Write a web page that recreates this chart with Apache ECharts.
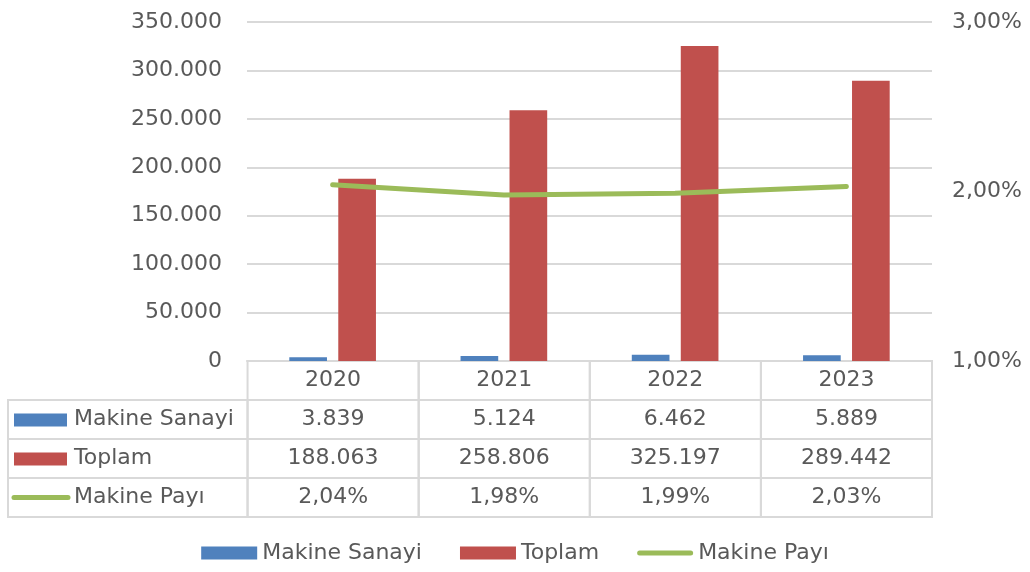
<!DOCTYPE html>
<html>
<head>
<meta charset="utf-8">
<script src="https://cdn.jsdelivr.net/npm/echarts@6/dist/echarts.min.js"></script>
<style>
  html, body { margin: 0; padding: 0; background: #fff; }
  #chart { width: 1030px; height: 572px; }
</style>
</head>
<body>
<div id="chart"></div>
<script>
  // data
  const years = ['2020', '2021', '2022', '2023']
  const makineSanayi = [3839, 5124, 6462, 5889]
  const toplam = [188063, 258806, 325197, 289442]
  const makinePayi = [2.04, 1.98, 1.99, 2.03]
  const seriesNames = ['Makine Sanayi', 'Toplam', 'Makine Payı']

  const blue = '#4f81bd'
  const red = '#c0504d'
  const green = '#9bbb59'
  const textColor = '#595959'
  const lineColor = '#d9d9d9'
  const fontFamily = 'DejaVu Sans'
  const fontSize = 22

  function fmtThousands(v) {
    return String(v).replace(/\B(?=(\d{3})+(?!\d))/g, '.')
  }
  function fmtPct(v) {
    return v.toFixed(2).replace('.', ',') + '%'
  }

  // table cells: x = column start, row index (0 = header)
  const labelColStart = -1.4
  const cells = []
  years.forEach(function(y, i) {
    cells.push({ x: i, row: 0, text: y })
  })
  const rows = [
    { name: seriesNames[0], values: makineSanayi.map(fmtThousands), icon: 'bar', color: blue },
    { name: seriesNames[1], values: toplam.map(fmtThousands), icon: 'bar', color: red },
    { name: seriesNames[2], values: makinePayi.map(fmtPct), icon: 'line', color: green }
  ]
  rows.forEach(function(r, ri) {
    cells.push({ x: labelColStart, row: ri + 1, text: r.name, icon: r.icon, color: r.color, label: true })
    r.values.forEach(function(v, i) {
      cells.push({ x: i, row: ri + 1, text: v })
    })
  })

  function renderCell(params, api) {
    const c = cells[params.dataIndex]
    const x1 = c.label ? 0 : c.x + 1
    const p0 = api.coord([c.x, c.row])
    const p1 = api.coord([x1, c.row + 1])
    const children = [{
      type: 'rect',
      shape: { x: p0[0], y: p0[1], width: p1[0] - p0[0], height: p1[1] - p0[1] },
      style: { fill: 'none', stroke: lineColor, lineWidth: 2 }
    }]
    const cy = (p0[1] + p1[1]) / 2
    if (c.label) {
      if (c.icon === 'bar') {
        children.push({
          type: 'rect',
          shape: { x: p0[0] + 6, y: cy - 6, width: 53, height: 13 },
          style: { fill: c.color }
        })
      } else {
        children.push({
          type: 'line',
          shape: { x1: p0[0] + 6, y1: cy, x2: p0[0] + 60, y2: cy },
          style: { stroke: c.color, lineWidth: 5, lineCap: 'round' }
        })
      }
      children.push({
        type: 'text',
        style: {
          x: p0[0] + 66, y: cy, text: c.text, fill: textColor,
          font: fontSize + 'px ' + fontFamily, textAlign: 'left', textVerticalAlign: 'middle'
        }
      })
    } else {
      children.push({
        type: 'text',
        style: {
          x: (p0[0] + p1[0]) / 2, y: cy, text: c.text, fill: textColor,
          font: fontSize + 'px ' + fontFamily, textAlign: 'center', textVerticalAlign: 'middle'
        }
      })
    }
    return { type: 'group', children: children }
  }

  const chart = echarts.init(document.getElementById('chart'))
  chart.setOption({
    animation: false,
    textStyle: { fontFamily: fontFamily },
    legend: {
      bottom: 3,
      left: 'center',
      itemWidth: 56,
      itemHeight: 13,
      itemGap: 38,
      textStyle: { color: textColor, fontSize: fontSize },
      data: [
        { name: seriesNames[0], icon: 'rect' },
        { name: seriesNames[1], icon: 'rect' },
        { name: seriesNames[2], icon: 'path://M2.5,0 L53.5,0 A2.5,2.5 0 0 1 53.5,5 L2.5,5 A2.5,2.5 0 0 1 2.5,0 Z' }
      ]
    },
    grid: [
      { left: 247, right: 98, top: 22, bottom: 211 },
      { left: 8, right: 98, top: 361, bottom: 55 }
    ],
    xAxis: [{
      type: 'category',
      gridIndex: 0,
      data: years,
      axisLine: { lineStyle: { color: lineColor, width: 2 } },
      axisTick: { show: false },
      axisLabel: { show: false }
    }, {
      type: 'value',
      gridIndex: 1,
      min: labelColStart,
      max: 4,
      show: false
    }],
    yAxis: [{
      type: 'value',
      gridIndex: 0,
      min: 0,
      max: 350000,
      interval: 50000,
      axisLine: { show: false },
      axisTick: { show: false },
      axisLabel: { color: textColor, fontSize: fontSize, margin: 25, formatter: fmtThousands },
      splitLine: { lineStyle: { color: lineColor, width: 2 } }
    }, {
      type: 'value',
      gridIndex: 0,
      min: 1,
      max: 3,
      interval: 1,
      position: 'right',
      axisLine: { show: false },
      axisTick: { show: false },
      axisLabel: { color: textColor, fontSize: fontSize, margin: 20, formatter: fmtPct },
      splitLine: { show: false }
    }, {
      type: 'value',
      gridIndex: 1,
      min: 0,
      max: 4,
      inverse: true,
      show: false
    }],
    series: [{
      name: seriesNames[0],
      type: 'bar',
      data: makineSanayi,
      color: blue,
      barWidth: '22%',
      barGap: '30%'
    }, {
      name: seriesNames[1],
      type: 'bar',
      data: toplam,
      color: red,
      barWidth: '22%',
      barGap: '30%'
    }, {
      name: seriesNames[2],
      type: 'line',
      yAxisIndex: 1,
      data: makinePayi,
      color: green,
      symbol: 'none',
      lineStyle: { width: 5, cap: 'round' }
    }, {
      type: 'custom',
      xAxisIndex: 1,
      yAxisIndex: 2,
      silent: true,
      clip: false,
      renderItem: renderCell,
      data: cells.map(function(c) { return [c.x, c.row] })
    }]
  })
</script>
</body>
</html>
